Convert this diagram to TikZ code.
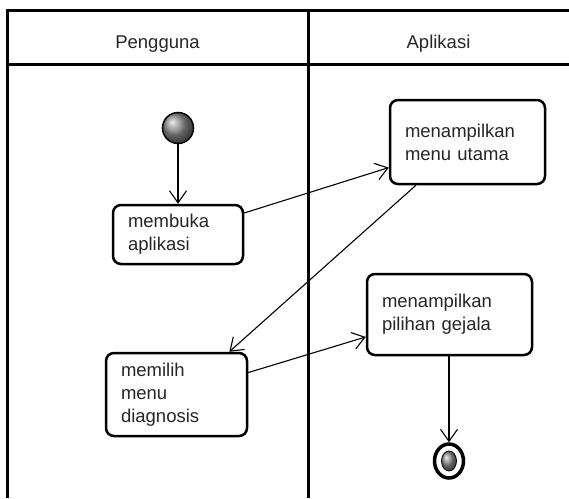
\documentclass[tikz,border=0pt]{standalone}
\usepackage{fontspec}
\setmainfont{Liberation Sans}
\usetikzlibrary{arrows.meta,shapes.geometric}

\begin{document}
\begin{tikzpicture}[x=1pt,y=-1pt,
  lane/.style={line width=3pt},
  lanetitle/.style={font=\fontsize{18.5}{23}\selectfont, text=black!85, inner sep=0pt},
  action/.style={draw, line width=2.5pt, rounded corners=8pt, fill=white,
    inner xsep=15pt, inner ysep=0pt, align=left,
    font=\fontsize{18.5}{23}\selectfont, text=black!85},
  flow/.style={line width=1.1pt,
    -{Straight Barb[length=12pt,width=17pt,line width=1.1pt]}},
]
\useasboundingbox (0,0) rectangle (569,498);

% swimlane frame
\draw[lane] (7,498) -- (7,10) -- (575,10);
\draw[lane] (7,64) -- (575,64);
\draw[lane] (308,10) -- (308,498);

\node[lanetitle, anchor=base] (user) at (157.5,48) {Pengguna};
\node[lanetitle, anchor=base] (app) at (438.5,48) {Aplikasi};

% start and end
\node[circle, draw, line width=1.5pt, minimum size=31pt, inner sep=0pt,
      ball color=black!45] (start) at (178,128) {};
\node[ellipse, draw, line width=3.5pt, minimum width=29pt, minimum height=34pt,
      inner sep=0pt, fill=white] (final) at (449,461) {};
\node[ellipse, draw, line width=0.8pt, minimum width=15pt, minimum height=20pt,
      inner sep=0pt, ball color=black!45] (finalcore) at (final.center) {};

% actions
\node[action, text width=100pt, minimum height=59pt] (membuka) at (178,234.5)
  {membuka\\aplikasi};
\node[action, text width=125pt, minimum height=84pt] (menu) at (467.5,142)
  {menampilkan\\menu utama};
\node[action, text width=111pt, minimum height=83pt] (memilih) at (176.5,394.5)
  {memilih\\menu\\diagnosis};
\node[action, text width=135pt, minimum height=81pt] (pilihan) at (449.5,314.5)
  {menampilkan\\pilihan gejala};

% control flow
\draw[flow] (start) -- (membuka);
\draw[flow] (membuka.18) -- (menu.198);
\draw[flow] (menu.220) -- (memilih.39);
\draw[flow] (memilih.17) -- (pilihan.195);
\draw[flow] (pilihan.south -| final.north) -- (final.north);
\end{tikzpicture}
\end{document}
